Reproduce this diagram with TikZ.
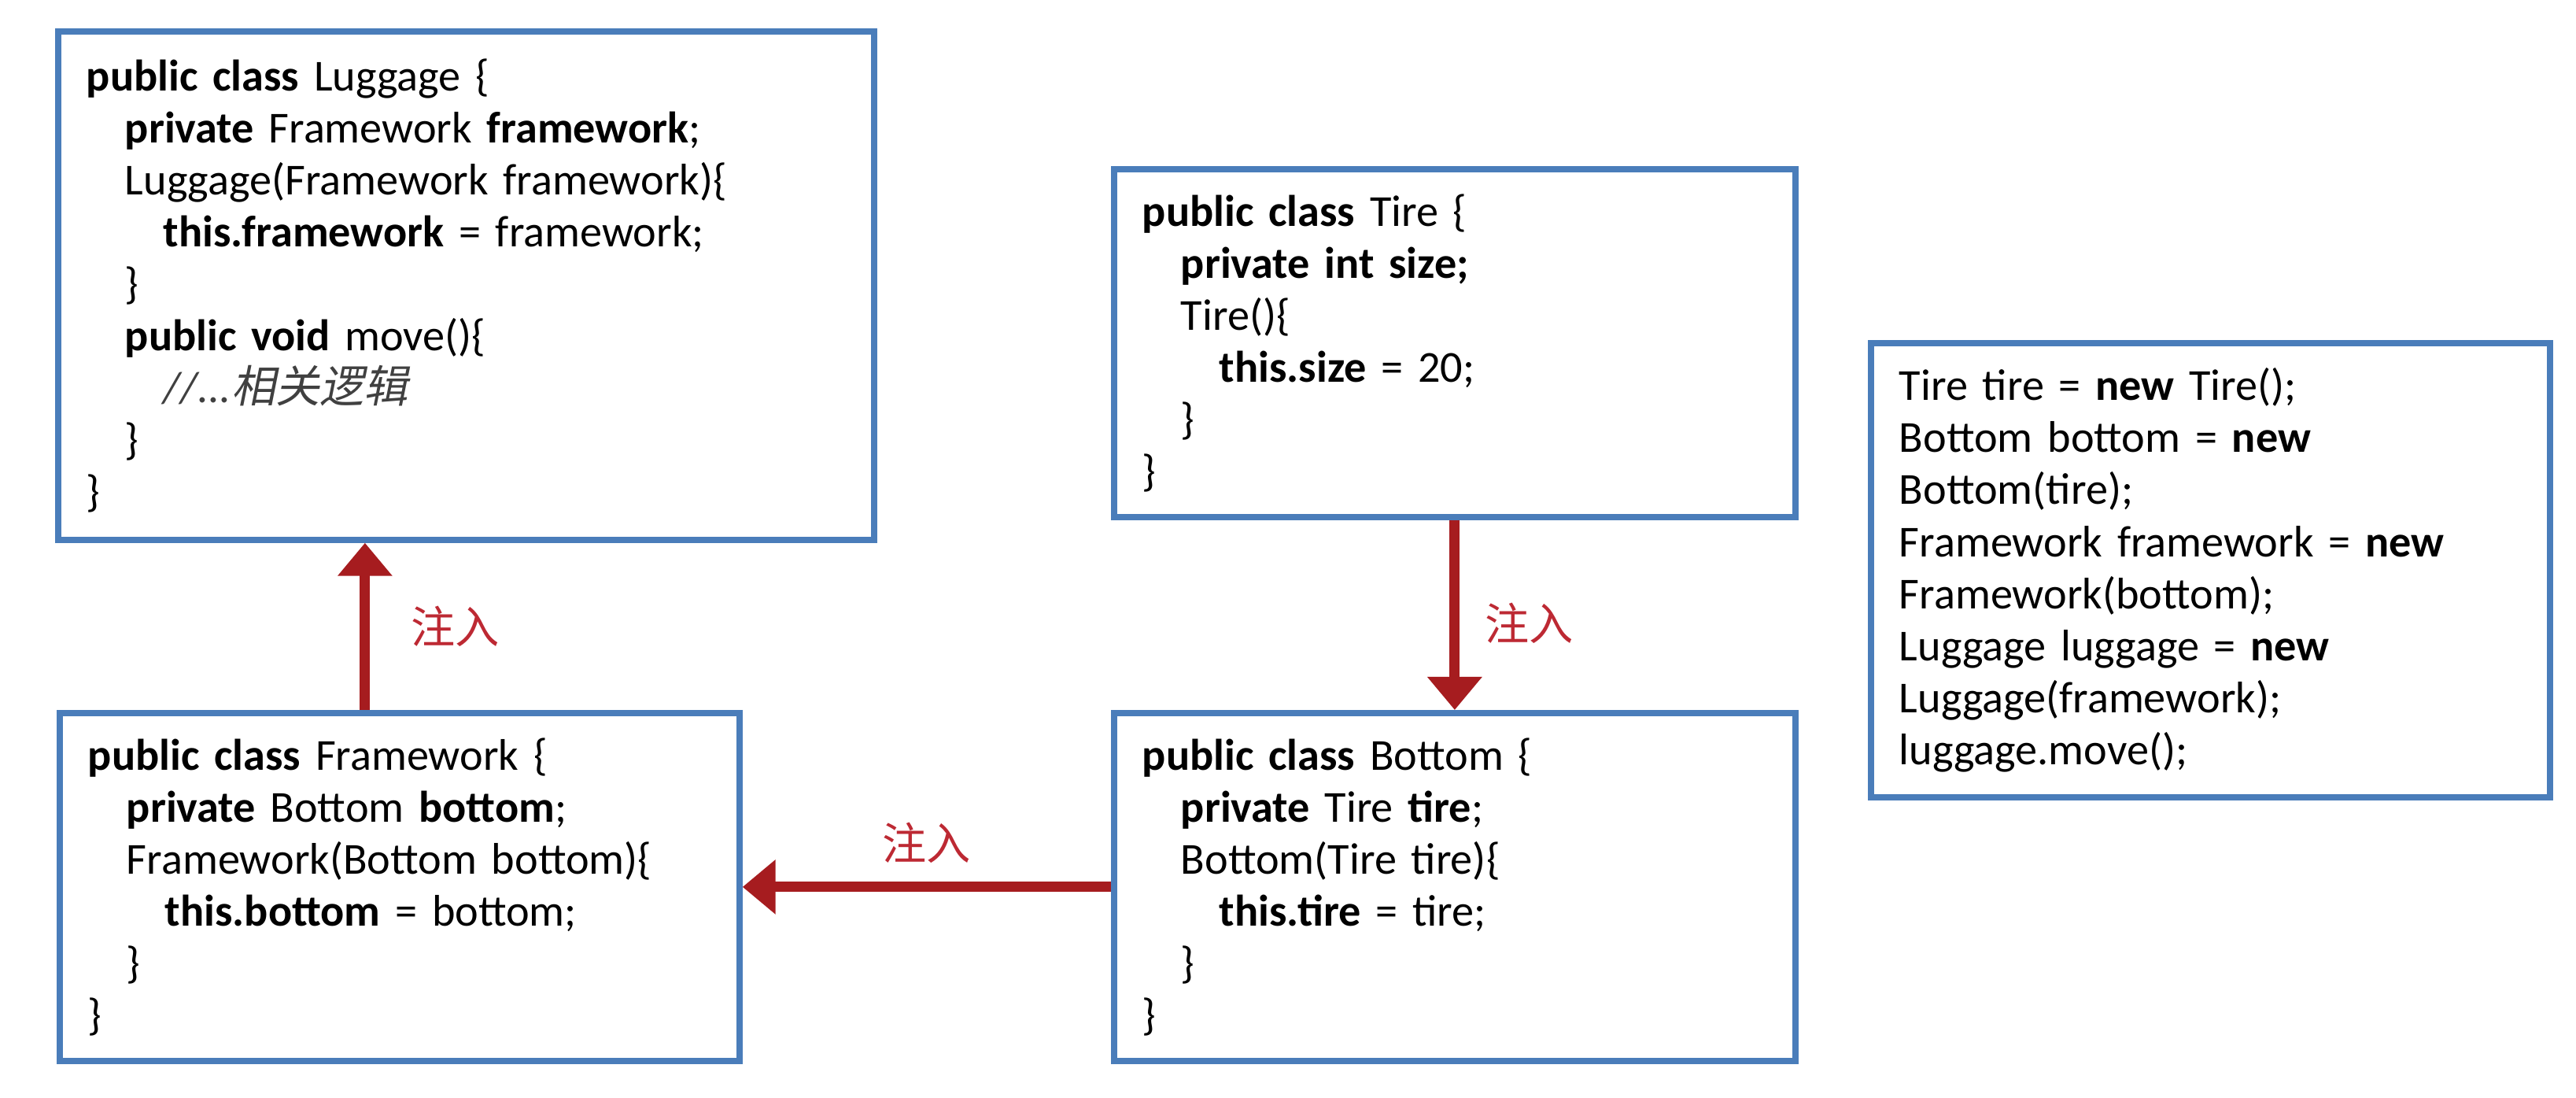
\documentclass[tikz,border=0pt]{standalone}
\usepackage{fontspec}
\setmainfont{Carlito}
\newfontfamily\cjk{Noto Sans CJK SC}
\newfontfamily\cjkit[FakeSlant=0.2]{Noto Sans CJK SC}
\usetikzlibrary{arrows.meta}
\definecolor{boxblue}{rgb}{0.29,0.49,0.73}
\definecolor{arrowred}{rgb}{0.65,0.11,0.12}
\definecolor{labelred}{rgb}{0.74,0.16,0.2}
\definecolor{commentgray}{rgb}{0.25,0.25,0.25}
\newcommand{\ti}{\hspace*{0.49cm}}

\begin{document}
\begin{tikzpicture}[x=1cm,y=1cm,>={Triangle[length=4.2mm,width=6.7mm]},
	codebox/.style={draw=boxblue,line width=2.2pt,anchor=north west,inner xsep=0.36cm,inner ysep=0pt,align=left,font=\fontsize{16}{18.8}\selectfont},
	inject/.style={->,draw=arrowred,line width=3.7pt},
	injlabel/.style={text=labelred,font=\cjk\fontsize{16}{19}\selectfont}]
	\useasboundingbox (0,0) rectangle (32.74,13.94);
	\node[codebox,text width=9.65cm,minimum height=6.46cm] (luggage) at (0.70,13.58) {\textbf{public class} Luggage \{\\
		\ti\textbf{private} Framework \textbf{framework};\\
		\ti Luggage(Framework framework)\{\\
		\ti\ti\textbf{this.framework} = framework;\\
		\ti\}\\
		\ti\textbf{public void} move()\{\\
		\ti\ti{\color{commentgray}\itshape //...\cjkit 相关逻辑}\\
		\ti\}\\
		\}};
	\node[codebox,text width=7.94cm,minimum height=4.42cm] (tire) at (14.12,11.83) {\textbf{public class} Tire \{\\
		\ti\textbf{private int size;}\\
		\ti Tire()\{\\
		\ti\ti\textbf{this.size} = 20;\\
		\ti\}\\
		\}};
	\node[codebox,text width=7.91cm,minimum height=5.77cm] (setup) at (23.74,9.62) {Tire tire = \textbf{new} Tire();\\
		Bottom bottom = \textbf{new}\\
		Bottom(tire);\\
		Framework framework = \textbf{new}\\
		Framework(bottom);\\
		Luggage luggage = \textbf{new}\\
		Luggage(framework);\\
		luggage.move();};
	\node[codebox,text width=7.92cm,minimum height=4.42cm] (framework) at (0.72,4.92) {\textbf{public class} Framework \{\\
		\ti\textbf{private} Bottom \textbf{bottom};\\
		\ti Framework(Bottom bottom)\{\\
		\ti\ti\textbf{this.bottom} = bottom;\\
		\ti\}\\
		\}};
	\node[codebox,text width=7.94cm,minimum height=4.42cm] (bottom) at (14.12,4.92) {\textbf{public class} Bottom \{\\
		\ti\textbf{private} Tire \textbf{tire};\\
		\ti Bottom(Tire tire)\{\\
		\ti\ti\textbf{this.tire} = tire;\\
		\ti\}\\
		\}};
	\draw[inject] ([xshift=-0.44cm]framework.north) -- ([xshift=-0.44cm]framework.north |- luggage.south) node[injlabel,midway,right=0.4cm] {注入};
	\draw[inject] (tire.south) -- (bottom.north) node[injlabel,midway,right=0.2cm,yshift=-0.1cm] {注入};
	\draw[inject] (bottom.west) -- (framework.east) node[injlabel,midway,above=0.12cm] {注入};
\end{tikzpicture}
\end{document}
